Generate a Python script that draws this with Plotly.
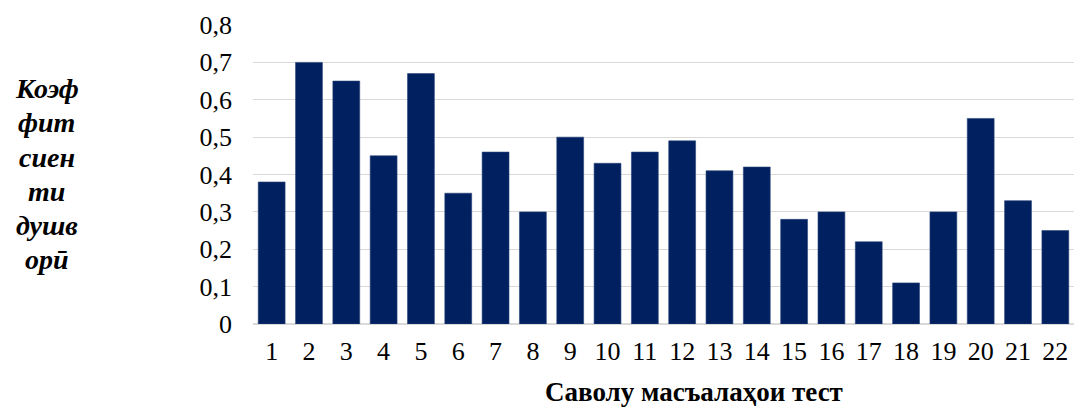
import plotly.graph_objects as go

# Test item numbers and their discrimination coefficients
questions = [str(i) for i in range(1, 23)]
coefficients = [0.38, 0.70, 0.65, 0.45, 0.67, 0.35, 0.46, 0.30, 0.50, 0.43, 0.46,
                0.49, 0.41, 0.42, 0.28, 0.30, 0.22, 0.11, 0.30, 0.55, 0.33, 0.25]

y_tick_values = [0, 0.1, 0.2, 0.3, 0.4, 0.5, 0.6, 0.7, 0.8]
y_tick_labels = ["0", "0,1", "0,2", "0,3", "0,4", "0,5", "0,6", "0,7", "0,8"]

y_title_lines = ["Коэф", "фит", "сиен", "ти", "душв", "орӣ"]
x_title = "Саволу масъалаҳои тест"

W, H = 1075, 409
ML, MR, MT, MB = 253, 1, 25, 85
plot_w = W - ML - MR
plot_h = H - MT - MB

FONT = "Liberation Serif, Times New Roman, serif"
BAR_COLOR = "#002060"
GRID = "#d9d9d9"

fig = go.Figure(
    go.Bar(
        x=questions,
        y=coefficients,
        marker=dict(color=BAR_COLOR, line=dict(color="#2a4478", width=0.6)),
        width=0.72,
    )
)

fig.update_layout(
    width=W,
    height=H,
    margin=dict(l=ML, r=MR, t=MT, b=MB),
    paper_bgcolor="white",
    plot_bgcolor="white",
    showlegend=False,
    font=dict(family=FONT, color="#000000", size=26),
)

fig.update_xaxes(
    type="category",
    showgrid=False,
    showline=False,
    ticks="",
    tickfont=dict(size=26, family=FONT),
    ticklabelstandoff=9,
)

fig.update_yaxes(
    range=[0, 0.8],
    tickvals=y_tick_values,
    ticktext=y_tick_labels,
    showgrid=True,
    gridcolor=GRID,
    gridwidth=1,
    zeroline=True,
    zerolinecolor=GRID,
    zerolinewidth=1.5,
    showline=False,
    ticks="",
    tickfont=dict(size=26, family=FONT),
    ticklabelstandoff=20,
)

# Vertical stack of the y-axis title, one word piece per line
line_centers_px = [88, 122, 157, 191, 225, 259]
for text, ypx in zip(y_title_lines, line_centers_px):
    fig.add_annotation(
        text=f"<b><i>{text}</i></b>",
        xref="paper", yref="paper",
        x=(47 - ML) / plot_w,
        y=(MT + plot_h - ypx) / plot_h,
        xanchor="center", yanchor="middle",
        showarrow=False,
        font=dict(size=28, family=FONT, color="#000000"),
    )

fig.add_annotation(
    text=f"<b>{x_title}</b>",
    xref="paper", yref="paper",
    x=(694 - ML) / plot_w,
    y=(MT + plot_h - H) / plot_h,
    xanchor="center", yanchor="bottom",
    showarrow=False,
    font=dict(size=27, family=FONT, color="#000000"),
)

fig.write_html("out.html")
